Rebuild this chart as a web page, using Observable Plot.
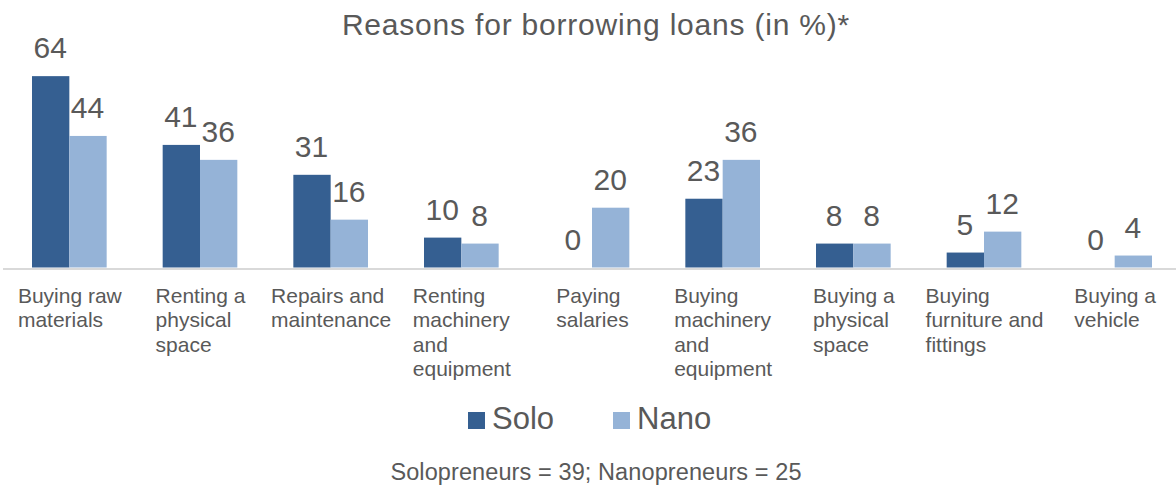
<!DOCTYPE html>
<html>
<head>
<meta charset="utf-8">
<script src="https://cdn.jsdelivr.net/npm/d3@7"></script>
<script src="https://cdn.jsdelivr.net/npm/@observablehq/plot@0.6"></script>
<style>
  body { margin: 0; background: #ffffff; font-family: "Liberation Sans", Arial, sans-serif; color: #595959; }
  #wrap { position: relative; width: 1176px; height: 486px; overflow: hidden; background: #fff; }
  #chart { position: absolute; left: 0; top: 0; }
  #title { position: absolute; left: 8px; top: 10px; width: 1176px; text-align: center;
           font-size: 30px; line-height: 30px; letter-spacing: 0.8px; white-space: nowrap; }
  #legend { position: absolute; left: 468px; top: 403px; display: flex; align-items: center;
            font-size: 31px; line-height: 31px; white-space: nowrap; }
  #legend .item { display: flex; align-items: center; }
  #legend .item + .item { margin-left: 59px; }
  #legend .sw { width: 17px; height: 17px; display: inline-block; position: relative; top: 2px; margin-right: 7px; }
  #caption { position: absolute; left: 0; top: 459.8px; width: 1192px; text-align: center;
             font-size: 23.5px; line-height: 24px; letter-spacing: 0.1px; white-space: nowrap; }
</style>
</head>
<body>
<div id="wrap">
  <div id="chart"></div>
  <div id="title"></div>
  <div id="legend"></div>
  <div id="caption"></div>
</div>
<script>
// ---- data ----
const titleText = "Reasons for borrowing loans (in %)*";
const captionText = "Solopreneurs = 39; Nanopreneurs = 25";
const categories = [
  "Buying raw materials",
  "Renting a physical space",
  "Repairs and maintenance",
  "Renting machinery and equipment",
  "Paying salaries",
  "Buying machinery and equipment",
  "Buying a physical space",
  "Buying furniture and fittings",
  "Buying a vehicle"
];
const tickLabels = [
  "Buying raw\nmaterials",
  "Renting a\nphysical\nspace",
  "Repairs and\nmaintenance",
  "Renting\nmachinery\nand\nequipment",
  "Paying\nsalaries",
  "Buying\nmachinery\nand\nequipment",
  "Buying a\nphysical\nspace",
  "Buying\nfurniture and\nfittings",
  "Buying a\nvehicle"
];
const seriesNames = ["Solo", "Nano"];
const seriesColors = ["#355F91", "#95B3D7"];
const soloValues = [64, 41, 31, 10, 0, 23, 8, 5, 0];
const nanoValues = [44, 36, 16, 8, 20, 36, 8, 12, 4];

// ---- layout ----
const W = 1176, H = 390;
const xRange = [4, 1180];
const step = (xRange[1] - xRange[0]) / categories.length;
const barW = 37.33;
const half = step / 2;
const textColor = "#595959";
const font = '"Liberation Sans", Arial, sans-serif';
const labelSize = 21;

const rows = categories.map((c, i) => ({cat: c, Solo: soloValues[i], Nano: nanoValues[i]}));
const soloData = rows.map(r => ({cat: r.cat, series: "Solo", value: r.Solo}));
const nanoData = rows.map(r => ({cat: r.cat, series: "Nano", value: r.Nano}));

// measure wrapped label widths (block centred, lines left-aligned)
const ctx = document.createElement("canvas").getContext("2d");
ctx.font = `${labelSize}px "Liberation Sans", Arial, sans-serif`;
const blockWidth = tickLabels.map(t => Math.max(...t.split("\n").map(s => ctx.measureText(s).width)));

const labelMarks = categories.map((c, i) =>
  Plot.text([c], {
    x: d => d,
    text: () => tickLabels[i],
    frameAnchor: "bottom",
    lineAnchor: "top",
    textAnchor: "start",
    lineHeight: 1.16,
    fontSize: labelSize,
    fill: textColor,
    dx: -blockWidth[i] / 2,
    dy: 17.5
  })
);

const chart = Plot.plot({
  width: W,
  height: H,
  marginTop: 58.2,
  marginBottom: 122.5,
  marginLeft: 3,
  marginRight: 0,
  style: {fontFamily: font, background: "transparent", overflow: "visible"},
  x: {type: "band", domain: categories, range: xRange, padding: 0, round: false, axis: null},
  y: {domain: [0, 70], axis: null},
  color: {domain: seriesNames, range: seriesColors},
  marks: [
    Plot.barY(soloData, {x: "cat", y: "value", fill: "series",
      insetLeft: half - barW, insetRight: half}),
    Plot.barY(nanoData, {x: "cat", y: "value", fill: "series",
      insetLeft: half, insetRight: half - barW}),
    Plot.ruleY([0], {stroke: "#d9d9d9", strokeWidth: 2, dy: 1}),
    Plot.text(soloData, {x: "cat", y: "value", text: d => String(d.value),
      dx: -barW / 2 - 1, dy: -18.5, lineAnchor: "bottom", fontSize: 30, fill: textColor}),
    Plot.text(nanoData, {x: "cat", y: "value", text: d => String(d.value),
      dx: barW / 2 - 1, dy: -18.5, lineAnchor: "bottom", fontSize: 30, fill: textColor}),
    ...labelMarks
  ]
});
document.getElementById("chart").appendChild(chart);

document.getElementById("title").textContent = titleText;
document.getElementById("caption").textContent = captionText;
const legend = document.getElementById("legend");
seriesNames.forEach((s, i) => {
  const item = document.createElement("span");
  item.className = "item";
  const sw = document.createElement("span");
  sw.className = "sw";
  sw.style.background = seriesColors[i];
  const lab = document.createElement("span");
  lab.textContent = s;
  item.appendChild(sw);
  item.appendChild(lab);
  legend.appendChild(item);
});
</script>
</body>
</html>
